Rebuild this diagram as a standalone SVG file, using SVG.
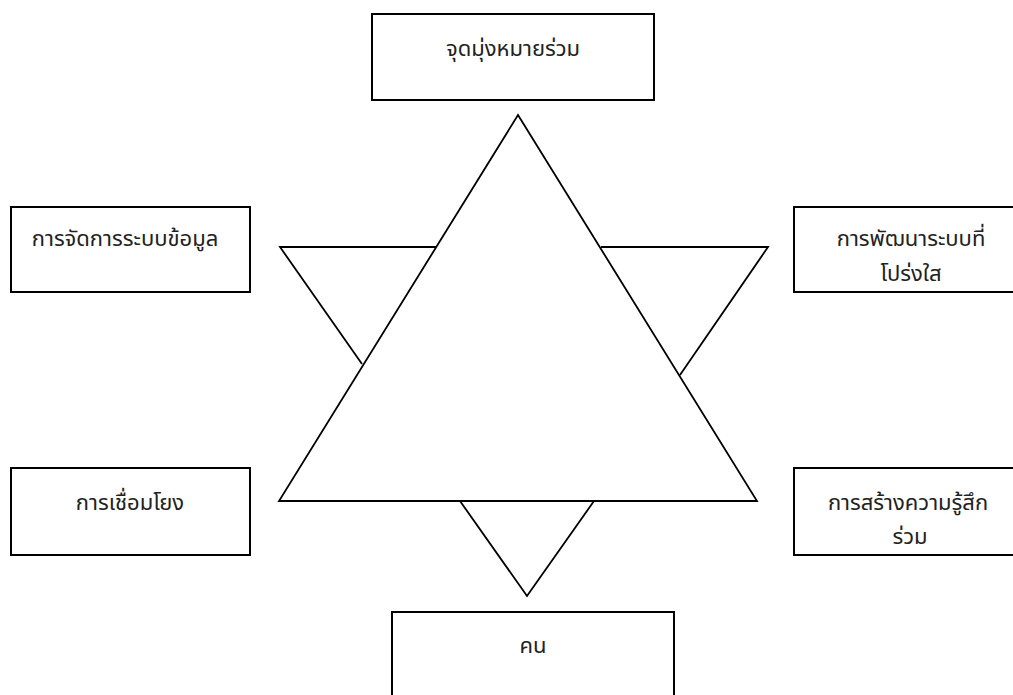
<svg xmlns="http://www.w3.org/2000/svg" width="1013" height="695" viewBox="0 0 1013 695">
  <style>
    .box { fill: #ffffff; stroke: #000000; stroke-width: 2; }
    .tri { fill: #ffffff; stroke: #000000; stroke-width: 1.8; stroke-linejoin: miter; }
    .label { font-family: "Noto Sans Thai", "Leelawadee UI", Tahoma, "Noto Sans", "DejaVu Sans", sans-serif; font-size: 22px; fill: #222222; text-anchor: middle; }
  </style>
  <rect width="1013" height="695" fill="#ffffff"/>

  <!-- Star shape: three small triangles behind one large triangle -->
  <g id="connectors">
    <path class="tri" d="M437,247 L280,247 L362,364"/>
    <path class="tri" d="M601,247 L768,247 L680,375"/>
    <path class="tri" d="M460,501 L527,596 L594,501"/>
    <polygon class="tri" points="518,115 757,501 279,501"/>
  </g>

  <g id="node-goal">
    <rect class="box" x="372" y="14" width="282" height="86"/>
    <text class="label" x="513" y="56">จุดมุ่งหมายร่วม</text>
  </g>

  <g id="node-data">
    <rect class="box" x="11" y="207" width="239" height="85"/>
    <text class="label" x="125" y="246">การจัดการระบบข้อมูล</text>
  </g>

  <g id="node-transparency">
    <rect class="box" x="794" y="207" width="236" height="85"/>
    <text class="label" x="911" y="246">การพัฒนาระบบที่</text>
    <text class="label" x="911" y="281">โปร่งใส</text>
  </g>

  <g id="node-linking">
    <rect class="box" x="11" y="468" width="239" height="87"/>
    <text class="label" x="130" y="510">การเชื่อมโยง</text>
  </g>

  <g id="node-ownership">
    <rect class="box" x="794" y="468" width="236" height="87"/>
    <text class="label" x="908" y="510">การสร้างความรู้สึก</text>
    <text class="label" x="910" y="544">ร่วม</text>
  </g>

  <g id="node-people">
    <rect class="box" x="392" y="612" width="282" height="100"/>
    <text class="label" x="533" y="653">คน</text>
  </g>
</svg>
